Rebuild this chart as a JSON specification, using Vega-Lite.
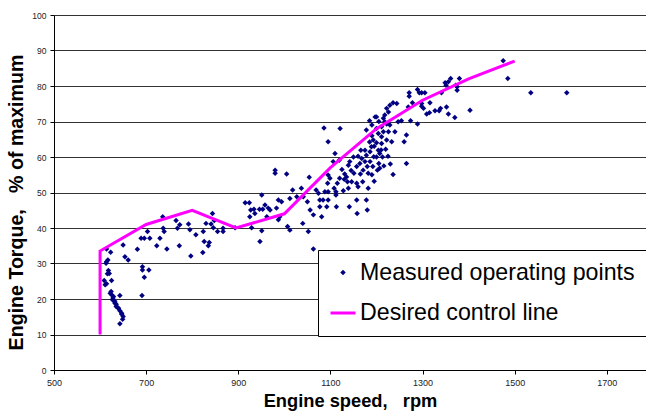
{
  "$schema": "https://vega.github.io/schema/vega-lite/v6.json",
  "autosize": {"type": "none"},
  "padding": {"left": 54, "top": 15, "right": 0, "bottom": 44},
  "width": 592,
  "height": 355,
  "background": "white",
  "config": {
    "view": {"stroke": null},
    "font": "Liberation Sans",
    "legend": {
      "orient": "none", "legendX": 264, "legendY": 235,
      "fillColor": "white", "strokeColor": "black", "padding": 11,
      "labelFontSize": 23.2, "labelFont": "Liberation Sans", "labelColor": "black", "labelLimit": 400,
      "symbolStrokeWidth": 3, "labelOffset": 3, "rowPadding": 15, "symbolOpacity": 1
    }
  },
  "datasets": {
    "pts": [
      {"rpm":614,"torque":34.1},{"rpm":623,"torque":33.2},{"rpm":614,"torque":30.5},{"rpm":617,"torque":31.0},{"rpm":613,"torque":30.1},{"rpm":618,"torque":28.0},{"rpm":616,"torque":27.1},{"rpm":620,"torque":27.2},{"rpm":609,"torque":25.2},{"rpm":614,"torque":24.3},{"rpm":611,"torque":24.0},{"rpm":625,"torque":25.2},{"rpm":622,"torque":21.6},{"rpm":625,"torque":21.2},{"rpm":629,"torque":20.7},{"rpm":624,"torque":22.1},{"rpm":628,"torque":20.3},{"rpm":643,"torque":21.0},{"rpm":627,"torque":19.8},{"rpm":632,"torque":18.9},{"rpm":632,"torque":19.4},{"rpm":635,"torque":17.9},{"rpm":635,"torque":18.5},{"rpm":640,"torque":17.4},{"rpm":639,"torque":17.5},{"rpm":643,"torque":16.7},{"rpm":647,"torque":16.0},{"rpm":647,"torque":15.7},{"rpm":650,"torque":15.1},{"rpm":649,"torque":14.3},{"rpm":643,"torque":13.0},{"rpm":650,"torque":35.2},{"rpm":654,"torque":31.9},{"rpm":661,"torque":31.0},{"rpm":681,"torque":34.0},{"rpm":689,"torque":37.1},{"rpm":696,"torque":37.1},{"rpm":703,"torque":39.0},{"rpm":708,"torque":37.1},{"rpm":692,"torque":29.1},{"rpm":692,"torque":28.2},{"rpm":706,"torque":28.2},{"rpm":696,"torque":26.1},{"rpm":691,"torque":21.0},{"rpm":723,"torque":35.0},{"rpm":730,"torque":37.1},{"rpm":736,"torque":43.2},{"rpm":737,"torque":39.9},{"rpm":739,"torque":39.0},{"rpm":745,"torque":34.1},{"rpm":765,"torque":42.1},{"rpm":768,"torque":39.9},{"rpm":773,"torque":40.9},{"rpm":772,"torque":35.0},{"rpm":792,"torque":41.1},{"rpm":795,"torque":39.5},{"rpm":797,"torque":32.1},{"rpm":808,"torque":38.1},{"rpm":824,"torque":39.0},{"rpm":823,"torque":33.1},{"rpm":826,"torque":36.2},{"rpm":830,"torque":41.3},{"rpm":837,"torque":35.9},{"rpm":835,"torque":35.0},{"rpm":841,"torque":41.1},{"rpm":844,"torque":44.1},{"rpm":848,"torque":42.1},{"rpm":846,"torque":40.1},{"rpm":855,"torque":39.0},{"rpm":867,"torque":39.9},{"rpm":867,"torque":39.0},{"rpm":893,"torque":40.1},{"rpm":915,"torque":47.1},{"rpm":924,"torque":47.1},{"rpm":927,"torque":45.1},{"rpm":934,"torque":45.3},{"rpm":925,"torque":43.2},{"rpm":929,"torque":40.1},{"rpm":936,"torque":44.1},{"rpm":951,"torque":49.3},{"rpm":946,"torque":45.3},{"rpm":953,"torque":45.3},{"rpm":958,"torque":46.5},{"rpm":965,"torque":45.6},{"rpm":962,"torque":43.2},{"rpm":951,"torque":39.2},{"rpm":947,"torque":36.2},{"rpm":969,"torque":45.1},{"rpm":987,"torque":47.9},{"rpm":987,"torque":42.3},{"rpm":983,"torque":45.6},
      {"rpm":990,"torque":43.2},{"rpm":994,"torque":47.4},{"rpm":980,"torque":56.3},{"rpm":980,"torque":55.4},{"rpm":1005,"torque":55.2},{"rpm":1007,"torque":40.4},{"rpm":1012,"torque":39.4},{"rpm":1012,"torque":48.3},{"rpm":1018,"torque":50.7},{"rpm":1027,"torque":48.8},{"rpm":1041,"torque":48.8},{"rpm":1037,"torque":51.2},{"rpm":1040,"torque":41.3},{"rpm":1052,"torque":39.0},{"rpm":1054,"torque":54.3},{"rpm":1050,"torque":47.4},{"rpm":1056,"torque":45.1},{"rpm":1063,"torque":43.7},{"rpm":1063,"torque":34.1},{"rpm":1069,"torque":50.7},{"rpm":1074,"torque":49.8},{"rpm":1077,"torque":47.9},{"rpm":1077,"torque":46.0},{"rpm":1081,"torque":43.2},{"rpm":1084,"torque":47.9},{"rpm":1086,"torque":68.2},{"rpm":1088,"torque":50.2},{"rpm":1095,"torque":64.3},{"rpm":1095,"torque":50.2},{"rpm":1095,"torque":47.9},{"rpm":1094,"torque":52.6},{"rpm":1095,"torque":54.9},{"rpm":1099,"torque":54.0},{"rpm":1092,"torque":46.0},{"rpm":1106,"torque":58.7},{"rpm":1110,"torque":61.0},{"rpm":1108,"torque":51.2},{"rpm":1115,"torque":52.6},{"rpm":1112,"torque":50.2},{"rpm":1112,"torque":49.3},{"rpm":1113,"torque":46.0},{"rpm":1119,"torque":59.1},{"rpm":1121,"torque":68.0},{"rpm":1130,"torque":53.7},{"rpm":1131,"torque":55.2},{"rpm":1135,"torque":54.4},{"rpm":1137,"torque":53.0},{"rpm":1139,"torque":57.7},{"rpm":1142,"torque":58.7},{"rpm":1139,"torque":51.2},{"rpm":1141,"torque":46.0},{"rpm":1146,"torque":53.0},{"rpm":1151,"torque":55.4},{"rpm":1157,"torque":57.3},{"rpm":1157,"torque":52.6},{"rpm":1157,"torque":47.9},{"rpm":1160,"torque":51.6},{"rpm":1158,"torque":44.1},{"rpm":1164,"torque":58.2},{"rpm":1166,"torque":61.9},{"rpm":1168,"torque":59.6},{"rpm":1171,"torque":56.3},{"rpm":1175,"torque":58.7},{"rpm":1175,"torque":61.9},{"rpm":1178,"torque":60.5},{"rpm":1180,"torque":57.3},{"rpm":1182,"torque":55.4},{"rpm":1178,"torque":47.9},{"rpm":1180,"torque":45.1},{"rpm":1178,"torque":67.6},{"rpm":1182,"torque":51.2},{"rpm":1186,"torque":58.7},{"rpm":1186,"torque":61.5},{"rpm":1189,"torque":62.9},{"rpm":1192,"torque":57.3},{"rpm":1193,"torque":64.8},{"rpm":1194,"torque":60.1},{"rpm":1197,"torque":71.3},{"rpm":1200,"torque":71.3},{"rpm":1202,"torque":56.3},{"rpm":1204,"torque":61.9},{"rpm":1204,"torque":66.6},
      {"rpm":1190,"torque":66.0},{"rpm":1195,"torque":63.0},{"rpm":1200,"torque":60.0},{"rpm":1205,"torque":58.2},{"rpm":1210,"torque":62.0},{"rpm":1213,"torque":60.0},{"rpm":1216,"torque":57.5},{"rpm":1200,"torque":64.0},{"rpm":1185,"torque":64.2},{"rpm":1190,"torque":55.0},{"rpm":1195,"torque":53.2},{"rpm":1170,"torque":53.0},{"rpm":1165,"torque":55.2},{"rpm":1160,"torque":60.2},{"rpm":1150,"torque":60.0},{"rpm":1145,"torque":56.2},{"rpm":1220,"torque":62.2},{"rpm":1225,"torque":60.2},{"rpm":1230,"torque":58.0},{"rpm":1205,"torque":70.0},{"rpm":1200,"torque":68.0},{"rpm":1190,"torque":69.0},{"rpm":1185,"torque":70.2},{"rpm":1125,"torque":56.5},{"rpm":1128,"torque":50.5},{"rpm":1120,"torque":54.0},
      {"rpm":1475,"torque":87.1},{"rpm":1485,"torque":82.1},{"rpm":1535,"torque":78.1},{"rpm":1613,"torque":78.1},{"rpm":1380,"torque":82.1},{"rpm":1375,"torque":79.8},{"rpm":1375,"torque":78.8},{"rpm":1372,"torque":80.2},{"rpm":1361,"torque":82.1},{"rpm":1356,"torque":81.2},{"rpm":1349,"torque":80.9},{"rpm":1351,"torque":80.2},{"rpm":1341,"torque":78.1},{"rpm":1403,"torque":73.2},{"rpm":1370,"torque":71.1},{"rpm":1356,"torque":72.1},{"rpm":1352,"torque":74.1},{"rpm":1339,"torque":73.7},{"rpm":1336,"torque":73.0},{"rpm":1327,"torque":73.0},{"rpm":1316,"torque":75.3},{"rpm":1315,"torque":72.5},{"rpm":1309,"torque":72.1},{"rpm":1302,"torque":73.7},{"rpm":1298,"torque":74.3},{"rpm":1298,"torque":75.1},{"rpm":1305,"torque":78.1},{"rpm":1298,"torque":78.1},{"rpm":1289,"torque":79.0},{"rpm":1293,"torque":78.1},{"rpm":1278,"torque":75.3},{"rpm":1271,"torque":78.1},{"rpm":1271,"torque":77.1},{"rpm":1269,"torque":74.1},{"rpm":1274,"torque":70.2},{"rpm":1289,"torque":69.3},{"rpm":1265,"torque":66.2},{"rpm":1260,"torque":64.3},{"rpm":1265,"torque":58.2},{"rpm":1236,"torque":55.1},{"rpm":1207,"torque":61.0},{"rpm":1207,"torque":56.8},{"rpm":1233,"torque":64.3},{"rpm":1240,"torque":67.1},{"rpm":1247,"torque":69.9},{"rpm":1254,"torque":70.2},{"rpm":1244,"torque":75.1},{"rpm":1236,"torque":75.3},{"rpm":1229,"torque":74.6},{"rpm":1222,"torque":73.7},{"rpm":1226,"torque":72.7},{"rpm":1218,"torque":71.8},{"rpm":1215,"torque":70.9},{"rpm":1218,"torque":69.9},{"rpm":1222,"torque":69.3},{"rpm":1229,"torque":69.0},{"rpm":1211,"torque":68.5},{"rpm":1215,"torque":67.1},{"rpm":1226,"torque":67.1},{"rpm":1211,"torque":65.7},{"rpm":1222,"torque":64.8},{"rpm":1211,"torque":63.8}
    ],
    "ctrl": [
      {"seq":1,"rpm":600,"torque":10},{"seq":2,"rpm":600,"torque":33.5},{"seq":3,"rpm":700,"torque":41},{"seq":4,"rpm":800,"torque":45},{"seq":5,"rpm":895,"torque":40},{"seq":6,"rpm":1000,"torque":44},{"seq":7,"rpm":1100,"torque":57},{"seq":8,"rpm":1200,"torque":68},{"seq":9,"rpm":1300,"torque":76},{"seq":10,"rpm":1400,"torque":82},{"seq":11,"rpm":1500,"torque":87}
    ]
  },
  "encoding": {
    "x": {
      "field": "rpm", "type": "quantitative",
      "scale": {"domain": [500, 1785], "nice": false, "zero": false},
      "axis": {
        "values": [500, 700, 900, 1100, 1300, 1500, 1700], "format": "d", "tickCount": 20,
        "title": "Engine speed,\u00a0\u00a0\u00a0rpm",
        "titleFontSize": 18.3, "titleFontWeight": "bold", "titleColor": "black", "titlePadding": 5,
        "labelFontSize": 9, "labelColor": "#222", "labelPadding": 4, "labelFlush": false, "labelOverlap": false,
        "tickColor": "black", "tickSize": 4, "domainColor": "black", "grid": false
      }
    },
    "y": {
      "field": "torque", "type": "quantitative",
      "scale": {"domain": [0, 100], "nice": false},
      "axis": {
        "values": [0, 10, 20, 30, 40, 50, 60, 70, 80, 90, 100], "tickCount": 20, "format": "d",
        "title": "Engine Torque,\u00a0\u00a0\u00a0% of maximum",
        "titleFontSize": 19.6, "titleFontWeight": "bold", "titleColor": "black", "titlePadding": 5, "titleY": 187,
        "labelFontSize": 8.5, "labelColor": "#222", "labelPadding": 4, "labelOverlap": false,
        "tickColor": "black", "tickSize": 4, "domainColor": "black",
        "grid": true, "gridColor": "#333", "gridOpacity": 1
      }
    }
  },
  "layer": [
    {
      "data": {"name": "pts"},
      "mark": {"type": "point", "filled": true, "opacity": 1},
      "encoding": {
        "fill": {
          "datum": "Measured operating points", "type": "nominal",
          "scale": {"domain": ["Measured operating points", "Desired control line"], "range": ["#000080", "transparent"]},
          "legend": {"title": null}
        },
        "stroke": {
          "datum": "Measured operating points", "type": "nominal",
          "scale": {"domain": ["Measured operating points", "Desired control line"], "range": ["transparent", "#FF00FF"]},
          "legend": {"title": null}
        },
        "shape": {
          "datum": "Measured operating points", "type": "nominal",
          "scale": {"domain": ["Measured operating points", "Desired control line"], "range": ["diamond", "stroke"]},
          "legend": {"title": null}
        },
        "size": {
          "datum": "Measured operating points", "type": "nominal",
          "scale": {"domain": ["Measured operating points", "Desired control line"], "range": [30, 625]},
          "legend": {"title": null}
        }
      }
    },
    {
      "data": {"name": "ctrl"},
      "mark": {"type": "line", "strokeWidth": 3, "color": "#FF00FF"},
      "encoding": {
        "order": {"field": "seq", "type": "quantitative"}
      }
    }
  ]
}
